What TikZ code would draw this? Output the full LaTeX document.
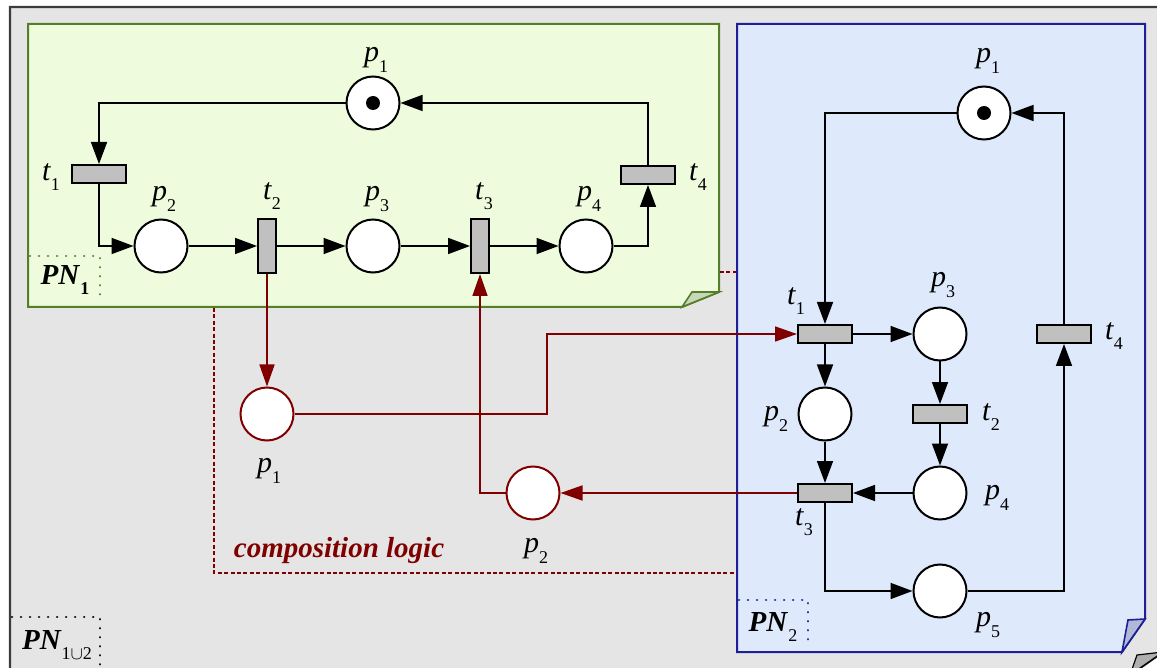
\documentclass[tikz,border=0pt]{standalone}
\usepackage{fontspec}
\setmainfont{Liberation Serif}
\usetikzlibrary{arrows.meta}
\definecolor{outerfill}{RGB}{229,229,229}
\definecolor{outerline}{RGB}{60,60,60}
\definecolor{greenfill}{RGB}{238,252,221}
\definecolor{greenline}{RGB}{86,125,40}
\definecolor{greenflap}{RGB}{200,214,185}
\definecolor{bluefill}{RGB}{222,233,252}
\definecolor{blueline}{RGB}{30,30,150}
\definecolor{blueflap}{RGB}{176,186,214}
\definecolor{grayflap}{RGB}{175,175,175}
\definecolor{transfill}{RGB}{192,192,192}
\definecolor{comp}{RGB}{128,0,0}
\newcommand\lb[2]{\textit{#1}\raisebox{-0.75ex}{\fontsize{9}{9}\selectfont #2}}
\newcommand\pnl[2]{\textbf{\textit{#1}}\raisebox{-0.7ex}{\fontsize{9}{9}\selectfont #2}}
\tikzset{
  place/.style={circle,draw=black,fill=white,line width=1pt,minimum size=26.5pt,inner sep=0pt},
  cplace/.style={place,draw=comp},
  htrans/.style={rectangle,draw=black,fill=transfill,line width=1pt,minimum width=27pt,minimum height=9pt,inner sep=0pt},
  vtrans/.style={rectangle,draw=black,fill=transfill,line width=1pt,minimum width=9pt,minimum height=27pt,inner sep=0pt},
  tok/.style={circle,fill=black,minimum size=7pt,inner sep=0pt},
  arc/.style={draw=black,line width=0.8pt,-{Triangle[length=11pt,width=8pt]}},
  carc/.style={arc,draw=comp,-{Triangle[length=11pt,width=7.5pt,fill=comp]}},
  lbl/.style={font=\fontsize{15}{15}\selectfont,inner sep=0pt},
  pnlbl/.style={font=\fontsize{14.5}{14.5}\selectfont,inner sep=0pt},
}
\begin{document}
\begin{tikzpicture}[x=0.5pt,y=-0.5pt]
\useasboundingbox (0,0) rectangle (1157,668);
\clip (0,0) rectangle (1157,668);
% outer frame
\draw[fill=outerfill,draw=outerline,line width=1.2pt]
  (10,7) -- (1163,7) -- (1163,652) -- (1130,675) -- (10,675) -- cycle;
\draw[fill=grayflap,draw=black,line width=0.6pt] (1130,675) -- (1137,655) -- (1163,652) -- cycle;
% PN1 box
\draw[fill=greenfill,draw=greenline,line width=1pt]
  (28,24) -- (719,24) -- (719,292) -- (682,307) -- (28,307) -- cycle;
\draw[fill=greenflap,draw=greenline,line width=0.8pt] (682,307) -- (692,292) -- (719,292) -- cycle;
% PN2 box
\draw[fill=bluefill,draw=blueline,line width=1pt]
  (737,24) -- (1145,24) -- (1145,619) -- (1122,652) -- (737,652) -- cycle;
\draw[fill=blueflap,draw=blueline,line width=0.8pt] (1122,652) -- (1128,620) -- (1145,619) -- cycle;
% PN labels
\draw[greenline,line width=1.3pt,dash pattern=on 0.01pt off 4.5pt,line cap=round] (30,256) -- (100,256) -- (100,303);
\node[pnlbl] (pn1) at (65,280) {\pnl{PN}{\bfseries 1}};
\draw[blueline,line width=1.3pt,dash pattern=on 0.01pt off 4.5pt,line cap=round] (739,600) -- (808,600) -- (808,648);
\node[pnlbl] (pn2) at (773,627) {\pnl{PN}{2}};
\draw[black,line width=1.3pt,dash pattern=on 0.01pt off 4.5pt,line cap=round] (12,617) -- (100,617) -- (100,668);
\node[pnlbl] (pn12) at (57,645) {\pnl{PN}{1$\cup$2}};
% composition logic
\draw[comp,line width=0.8pt,dash pattern=on 2pt off 1.2pt] (214,308) -- (214,573) -- (736,573);
\draw[comp,line width=0.8pt,dash pattern=on 2pt off 1.2pt] (720,272) -- (736,272);
\node[pnlbl,text=comp] (cl) at (339,551) {\textbf{\textit{composition logic}}};
% PN1 net
\node[place] (a1) at (373,103) {};
\node[tok] (a1tok) at (373,103) {};
\node[htrans] (at1) at (99,174) {};
\node[place] (a2) at (161,246) {};
\node[vtrans] (at2) at (267,246) {};
\node[place] (a3) at (373,246) {};
\node[vtrans] (at3) at (480,246) {};
\node[place] (a4) at (586,246) {};
\node[htrans] (at4) at (648,175) {};
\node[lbl] (la1) at (376,60) {\lb{p}{1}};
\node[lbl] (lat1) at (51,177) {\lb{t}{1}};
\node[lbl] (la2) at (164,199) {\lb{p}{2}};
\node[lbl] (lat2) at (272,196) {\lb{t}{2}};
\node[lbl] (la3) at (377,199) {\lb{p}{3}};
\node[lbl] (lat3) at (484,196) {\lb{t}{3}};
\node[lbl] (la4) at (589,199) {\lb{p}{4}};
\node[lbl] (lat4) at (698,177) {\lb{t}{4}};
\draw[arc] (a1) -| (at1);
\draw[arc] (at1) |- (a2);
\draw[arc] (a2) -- (at2);
\draw[arc] (at2) -- (a3);
\draw[arc] (a3) -- (at3);
\draw[arc] (at3) -- (a4);
\draw[arc] (a4) -| (at4);
\draw[arc] (at4) |- (a1);
% PN2 net
\node[place] (b1) at (984,113) {};
\node[tok] (b1tok) at (984,113) {};
\node[htrans] (bt1) at (825,334) {};
\node[place] (b3) at (940,334) {};
\node[place] (b2) at (825,414) {};
\node[htrans] (bt2) at (940,414) {};
\node[place] (b4) at (940,493) {};
\node[htrans] (bt3) at (825,493) {};
\node[place] (b5) at (940,591) {};
\node[htrans] (bt4) at (1064,334) {};
\node[lbl] (lb1) at (988,61) {\lb{p}{1}};
\node[lbl] (lbt1) at (796,301) {\lb{t}{1}};
\node[lbl] (lb3) at (943,285) {\lb{p}{3}};
\node[lbl] (lb2) at (776,419) {\lb{p}{2}};
\node[lbl] (lbt2) at (991,417) {\lb{t}{2}};
\node[lbl] (lb4) at (997,498) {\lb{p}{4}};
\node[lbl] (lbt3) at (804,522) {\lb{t}{3}};
\node[lbl] (lb5) at (988,625) {\lb{p}{5}};
\node[lbl] (lbt4) at (1114,336) {\lb{t}{4}};
\draw[arc] (b1) -| (bt1);
\draw[arc] (bt1) -- (b3);
\draw[arc] (bt1) -- (b2);
\draw[arc] (b3) -- (bt2);
\draw[arc] (bt2) -- (b4);
\draw[arc] (b4) -- (bt3);
\draw[arc] (b2) -- (bt3);
\draw[arc] (bt3) |- (b5);
\draw[arc] (b5) -| (bt4);
\draw[arc] (bt4) |- (b1);
% composition places
\node[cplace] (c1) at (267,414) {};
\node[cplace] (c2) at (533,493) {};
\node[lbl] (lc1) at (269,471) {\lb{p}{1}};
\node[lbl] (lc2) at (536,551) {\lb{p}{2}};
\coordinate (k1) at (547,334);
\draw[carc] (at2) -- (c1);
\draw[carc] (c1) -| (k1) -- (bt1);
\draw[carc] (bt3) -- (c2);
\draw[carc] (c2) -| (at3);
\end{tikzpicture}
\end{document}
